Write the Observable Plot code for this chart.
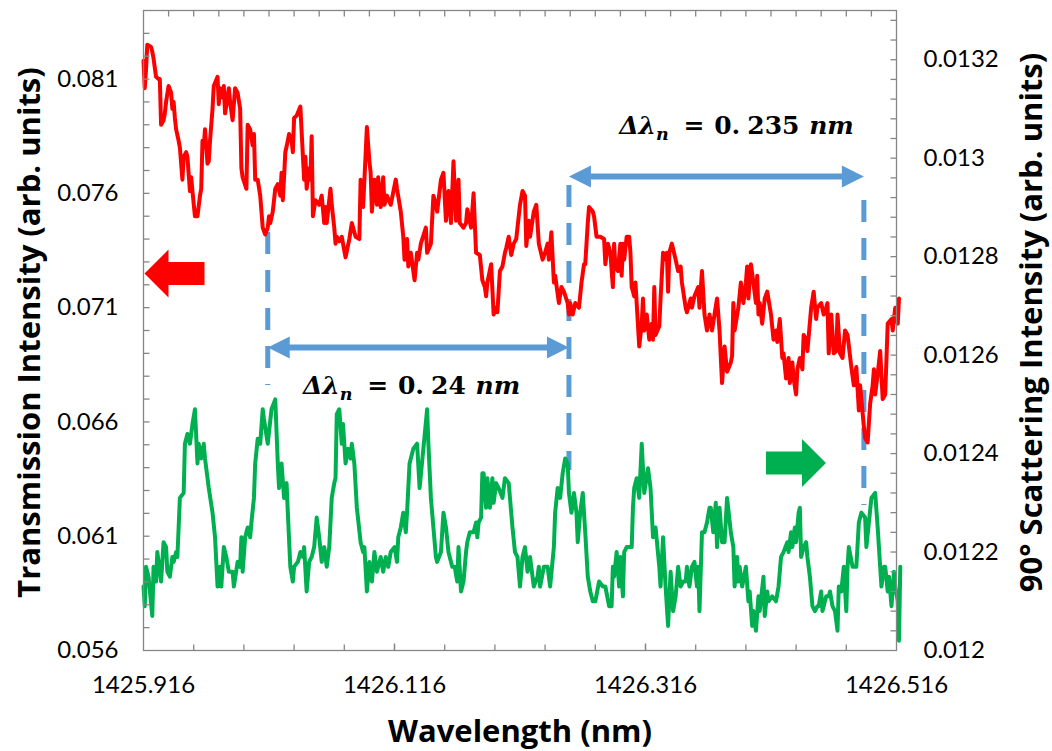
<!DOCTYPE html>
<html>
<head>
<meta charset="utf-8">
<script src="https://cdn.jsdelivr.net/npm/d3@7"></script>
<script src="https://cdn.jsdelivr.net/npm/@observablehq/plot@0.6"></script>
<style>
  html, body { margin: 0; padding: 0; background: #fff; }
  #chart svg { display: block; }
</style>
</head>
<body>
<div id="chart"></div>
<script>
// Transmission through the resonator: [wavelength (nm), intensity (left axis)]
const transmission = [
[1425.916,0.0818],[1425.917,0.0806],[1425.918,0.0814],[1425.919,0.0825],[1425.922,0.0824],[1425.923,0.0822],[1425.924,0.0819],[1425.926,0.0811],[1425.928,0.0810],[1425.929,0.0810],
[1425.930,0.0790],[1425.932,0.0792],[1425.933,0.0795],[1425.934,0.0800],[1425.936,0.0807],[1425.938,0.0804],[1425.939,0.0797],[1425.940,0.0800],[1425.941,0.0793],[1425.942,0.0788],
[1425.944,0.0783],[1425.945,0.0780],[1425.947,0.0766],[1425.948,0.0776],[1425.950,0.0778],[1425.951,0.0776],[1425.953,0.0761],[1425.954,0.0767],[1425.955,0.0761],[1425.957,0.0750],
[1425.959,0.0750],[1425.961,0.0759],[1425.962,0.0762],[1425.963,0.0783],[1425.964,0.0780],[1425.965,0.0788],[1425.967,0.0773],[1425.968,0.0774],[1425.969,0.0783],[1425.971,0.0797],
[1425.972,0.0807],[1425.975,0.0811],[1425.976,0.0799],[1425.977,0.0806],[1425.979,0.0802],[1425.980,0.0807],[1425.981,0.0795],[1425.983,0.0802],[1425.984,0.0806],[1425.985,0.0800],
[1425.987,0.0792],[1425.988,0.0799],[1425.989,0.0806],[1425.991,0.0804],[1425.993,0.0797],[1425.994,0.0771],[1425.995,0.0767],[1425.998,0.0762],[1425.999,0.0790],[1426.001,0.0788],
[1426.003,0.0781],[1426.004,0.0786],[1426.005,0.0766],[1426.007,0.0766],[1426.009,0.0759],[1426.011,0.0745],[1426.013,0.0742],[1426.015,0.0745],[1426.016,0.0750],[1426.017,0.0747],
[1426.019,0.0752],[1426.021,0.0762],[1426.023,0.0764],[1426.025,0.0759],[1426.026,0.0769],[1426.027,0.0757],[1426.028,0.0767],[1426.029,0.0778],[1426.031,0.0783],[1426.032,0.0786],
[1426.034,0.0783],[1426.035,0.0778],[1426.036,0.0793],[1426.038,0.0794],[1426.041,0.0798],[1426.042,0.0787],[1426.044,0.0766],[1426.045,0.0776],[1426.046,0.0762],[1426.048,0.0771],
[1426.049,0.0766],[1426.050,0.0785],[1426.051,0.0750],[1426.053,0.0757],[1426.056,0.0755],[1426.058,0.0759],[1426.060,0.0747],[1426.061,0.0754],[1426.062,0.0747],[1426.065,0.0762],
[1426.066,0.0755],[1426.068,0.0745],[1426.069,0.0738],[1426.070,0.0741],[1426.072,0.0739],[1426.074,0.0741],[1426.077,0.0732],[1426.080,0.0740],[1426.082,0.0747],[1426.085,0.0741],
[1426.088,0.0740],[1426.089,0.0766],[1426.091,0.0754],[1426.094,0.0789],[1426.096,0.0774],[1426.097,0.0769],[1426.098,0.0752],[1426.100,0.0766],[1426.102,0.0755],[1426.103,0.0767],
[1426.105,0.0754],[1426.107,0.0767],[1426.108,0.0755],[1426.110,0.0759],[1426.113,0.0755],[1426.117,0.0766],[1426.118,0.0762],[1426.121,0.0752],[1426.123,0.0741],[1426.124,0.0731],
[1426.126,0.0740],[1426.127,0.0728],[1426.129,0.0734],[1426.132,0.0722],[1426.134,0.0734],[1426.135,0.0731],[1426.137,0.0738],[1426.141,0.0745],[1426.142,0.0734],[1426.145,0.0738],
[1426.147,0.0759],[1426.149,0.0755],[1426.150,0.0752],[1426.153,0.0766],[1426.155,0.0769],[1426.157,0.0748],[1426.159,0.0761],[1426.161,0.0747],[1426.163,0.0774],[1426.165,0.0748],
[1426.167,0.0766],[1426.168,0.0747],[1426.171,0.0745],[1426.173,0.0747],[1426.174,0.0753],[1426.177,0.0745],[1426.179,0.0760],[1426.181,0.0734],[1426.184,0.0733],[1426.186,0.0722],
[1426.188,0.0719],[1426.189,0.0715],[1426.190,0.0721],[1426.193,0.0729],[1426.195,0.0707],[1426.197,0.0710],[1426.198,0.0708],[1426.200,0.0726],[1426.202,0.0728],[1426.204,0.0734],
[1426.205,0.0736],[1426.207,0.0741],[1426.209,0.0733],[1426.211,0.0738],[1426.213,0.0740],[1426.216,0.0755],[1426.218,0.0761],[1426.220,0.0759],[1426.221,0.0737],[1426.223,0.0748],
[1426.224,0.0741],[1426.227,0.0752],[1426.229,0.0755],[1426.231,0.0738],[1426.234,0.0731],[1426.236,0.0734],[1426.238,0.0738],[1426.239,0.0731],[1426.241,0.0743],[1426.243,0.0721],
[1426.244,0.0724],[1426.247,0.0712],[1426.249,0.0719],[1426.251,0.0717],[1426.254,0.0712],[1426.255,0.0707],[1426.256,0.0712],[1426.258,0.0707],[1426.260,0.0712],[1426.263,0.0710],
[1426.265,0.0721],[1426.267,0.0729],[1426.268,0.0729],[1426.270,0.0747],[1426.271,0.0754],[1426.274,0.0752],[1426.275,0.0750],[1426.277,0.0741],[1426.280,0.0741],[1426.283,0.0740],
[1426.284,0.0729],[1426.286,0.0738],[1426.288,0.0734],[1426.290,0.0719],[1426.291,0.0738],[1426.292,0.0728],[1426.294,0.0726],[1426.296,0.0738],[1426.297,0.0724],[1426.298,0.0738],
[1426.299,0.0731],[1426.301,0.0741],[1426.303,0.0741],[1426.304,0.0734],[1426.305,0.0719],[1426.307,0.0715],[1426.308,0.0721],[1426.311,0.0693],[1426.313,0.0703],[1426.314,0.0714],
[1426.315,0.0700],[1426.317,0.0707],[1426.319,0.0696],[1426.321,0.0703],[1426.322,0.0696],[1426.323,0.0719],[1426.324,0.0698],[1426.327,0.0702],[1426.328,0.0714],[1426.330,0.0734],
[1426.332,0.0731],[1426.333,0.0734],[1426.334,0.0717],[1426.335,0.0734],[1426.337,0.0738],[1426.340,0.0731],[1426.342,0.0726],[1426.344,0.0728],[1426.345,0.0721],[1426.348,0.0710],
[1426.349,0.0708],[1426.352,0.0714],[1426.353,0.0710],[1426.355,0.0715],[1426.358,0.0719],[1426.359,0.0710],[1426.361,0.0726],[1426.363,0.0707],[1426.365,0.0700],[1426.367,0.0707],
[1426.369,0.0700],[1426.373,0.0714],[1426.375,0.0700],[1426.376,0.0688],[1426.377,0.0677],[1426.379,0.0693],[1426.381,0.0682],[1426.384,0.0686],[1426.385,0.0689],[1426.386,0.0712],
[1426.387,0.0700],[1426.390,0.0710],[1426.392,0.0721],[1426.394,0.0712],[1426.396,0.0721],[1426.397,0.0728],[1426.398,0.0714],[1426.400,0.0729],[1426.402,0.0721],[1426.404,0.0712],
[1426.405,0.0724],[1426.406,0.0707],[1426.407,0.0712],[1426.409,0.0703],[1426.411,0.0714],[1426.413,0.0717],[1426.416,0.0707],[1426.418,0.0696],[1426.420,0.0700],[1426.421,0.0695],
[1426.423,0.0705],[1426.425,0.0688],[1426.426,0.0690],[1426.428,0.0679],[1426.430,0.0688],[1426.431,0.0677],[1426.433,0.0686],[1426.434,0.0679],[1426.436,0.0672],[1426.437,0.0683],
[1426.439,0.0688],[1426.441,0.0683],[1426.442,0.0698],[1426.444,0.0696],[1426.445,0.0691],[1426.448,0.0710],[1426.450,0.0717],[1426.452,0.0705],[1426.453,0.0710],[1426.456,0.0712],
[1426.458,0.0707],[1426.460,0.0710],[1426.461,0.0712],[1426.462,0.0690],[1426.464,0.0707],[1426.466,0.0690],[1426.468,0.0691],[1426.469,0.0707],[1426.471,0.0690],[1426.473,0.0688],
[1426.475,0.0700],[1426.477,0.0698],[1426.480,0.0684],[1426.482,0.0676],[1426.484,0.0684],[1426.486,0.0665],[1426.487,0.0676],[1426.490,0.0658],[1426.491,0.0653],[1426.493,0.0651],
[1426.495,0.0668],[1426.497,0.0676],[1426.498,0.0683],[1426.499,0.0672],[1426.501,0.0681],[1426.503,0.0691],[1426.505,0.0670],[1426.507,0.0672],[1426.509,0.0703],[1426.512,0.0705],
[1426.513,0.0700],[1426.515,0.0710],[1426.517,0.0703],[1426.518,0.0714]
];

// 90° scattered light: [wavelength (nm), intensity (right axis)]
const scattering = [
[1425.916,0.01213],[1425.917,0.01209],[1425.918,0.01217],[1425.920,0.01215],[1425.923,0.01207],[1425.924,0.01217],[1425.926,0.01214],[1425.927,0.01220],[1425.929,0.01216],[1425.930,0.01214],
[1425.932,0.01222],[1425.934,0.01221],[1425.935,0.01216],[1425.937,0.01215],[1425.939,0.01219],[1425.940,0.01218],[1425.942,0.01220],[1425.943,0.01219],[1425.945,0.01231],[1425.948,0.01232],
[1425.949,0.01242],[1425.951,0.01244],[1425.953,0.01242],[1425.955,0.01246],[1425.957,0.01249],[1425.959,0.01238],[1425.960,0.01242],[1425.962,0.01239],[1425.964,0.01242],[1425.965,0.01239],
[1425.968,0.01233],[1425.971,0.01228],[1425.973,0.01223],[1425.975,0.01213],[1425.977,0.01217],[1425.978,0.01213],[1425.980,0.01221],[1425.982,0.01219],[1425.984,0.01216],[1425.987,0.01216],
[1425.988,0.01213],[1425.991,0.01218],[1425.993,0.01217],[1425.994,0.01223],[1425.995,0.01216],[1425.997,0.01223],[1425.999,0.01225],[1426.001,0.01223],[1426.002,0.01226],[1426.004,0.01231],
[1426.005,0.01238],[1426.007,0.01243],[1426.009,0.01242],[1426.011,0.01249],[1426.012,0.01247],[1426.015,0.01242],[1426.018,0.01249],[1426.021,0.01251],[1426.023,0.01238],[1426.024,0.01233],
[1426.026,0.01238],[1426.028,0.01231],[1426.030,0.01234],[1426.031,0.01228],[1426.033,0.01217],[1426.035,0.01214],[1426.036,0.01217],[1426.039,0.01218],[1426.041,0.01220],[1426.043,0.01219],
[1426.044,0.01221],[1426.046,0.01212],[1426.048,0.01218],[1426.050,0.01219],[1426.052,0.01221],[1426.054,0.01227],[1426.056,0.01223],[1426.058,0.01218],[1426.060,0.01221],[1426.062,0.01217],
[1426.064,0.01221],[1426.066,0.01231],[1426.068,0.01234],[1426.069,0.01235],[1426.070,0.01248],[1426.072,0.01249],[1426.074,0.01242],[1426.075,0.01246],[1426.077,0.01238],[1426.079,0.01241],
[1426.081,0.01239],[1426.082,0.01242],[1426.084,0.01238],[1426.086,0.01229],[1426.089,0.01222],[1426.091,0.01220],[1426.092,0.01221],[1426.094,0.01212],[1426.096,0.01218],[1426.098,0.01214],
[1426.100,0.01220],[1426.102,0.01216],[1426.105,0.01219],[1426.107,0.01216],[1426.109,0.01219],[1426.111,0.01217],[1426.113,0.01220],[1426.116,0.01221],[1426.118,0.01218],[1426.119,0.01223],
[1426.121,0.01225],[1426.123,0.01228],[1426.125,0.01224],[1426.126,0.01228],[1426.128,0.01238],[1426.131,0.01241],[1426.134,0.01242],[1426.136,0.01233],[1426.139,0.01241],[1426.142,0.01249],
[1426.143,0.01242],[1426.145,0.01231],[1426.147,0.01225],[1426.149,0.01219],[1426.150,0.01218],[1426.153,0.01220],[1426.155,0.01228],[1426.157,0.01225],[1426.159,0.01220],[1426.162,0.01217],
[1426.164,0.01217],[1426.166,0.01214],[1426.167,0.01221],[1426.169,0.01212],[1426.171,0.01214],[1426.173,0.01220],[1426.174,0.01222],[1426.176,0.01224],[1426.179,0.01224],[1426.181,0.01226],
[1426.182,0.01223],[1426.183,0.01226],[1426.185,0.01227],[1426.186,0.01236],[1426.187,0.01236],[1426.189,0.01229],[1426.190,0.01235],[1426.192,0.01229],[1426.194,0.01235],[1426.195,0.01230],
[1426.197,0.01234],[1426.199,0.01233],[1426.202,0.01231],[1426.204,0.01235],[1426.207,0.01234],[1426.210,0.01225],[1426.212,0.01220],[1426.214,0.01219],[1426.216,0.01213],[1426.218,0.01219],
[1426.220,0.01221],[1426.222,0.01216],[1426.224,0.01219],[1426.227,0.01213],[1426.230,0.01215],[1426.231,0.01217],[1426.232,0.01213],[1426.235,0.01217],[1426.238,0.01217],[1426.240,0.01213],
[1426.243,0.01221],[1426.244,0.01228],[1426.246,0.01233],[1426.248,0.01231],[1426.250,0.01236],[1426.252,0.01239],[1426.254,0.01238],[1426.255,0.01232],[1426.257,0.01228],[1426.259,0.01232],
[1426.261,0.01228],[1426.262,0.01222],[1426.264,0.01228],[1426.266,0.01232],[1426.268,0.01224],[1426.270,0.01215],[1426.272,0.01212],[1426.274,0.01210],[1426.276,0.01210],[1426.279,0.01214],
[1426.282,0.01213],[1426.284,0.01213],[1426.287,0.01209],[1426.289,0.01209],[1426.290,0.01217],[1426.291,0.01215],[1426.293,0.01220],[1426.295,0.01213],[1426.296,0.01219],[1426.298,0.01211],
[1426.299,0.01220],[1426.301,0.01221],[1426.303,0.01221],[1426.305,0.01221],[1426.306,0.01229],[1426.307,0.01233],[1426.309,0.01235],[1426.311,0.01231],[1426.313,0.01242],[1426.315,0.01232],
[1426.318,0.01237],[1426.320,0.01233],[1426.322,0.01223],[1426.324,0.01225],[1426.327,0.01217],[1426.328,0.01213],[1426.330,0.01223],[1426.332,0.01213],[1426.334,0.01205],[1426.336,0.01216],
[1426.338,0.01208],[1426.340,0.01211],[1426.342,0.01217],[1426.344,0.01213],[1426.346,0.01214],[1426.348,0.01214],[1426.349,0.01217],[1426.351,0.01213],[1426.353,0.01217],[1426.355,0.01218],
[1426.357,0.01213],[1426.358,0.01217],[1426.359,0.01208],[1426.361,0.01224],[1426.363,0.01224],[1426.365,0.01226],[1426.367,0.01229],[1426.368,0.01229],[1426.370,0.01224],[1426.372,0.01230],
[1426.373,0.01221],[1426.375,0.01229],[1426.377,0.01222],[1426.379,0.01222],[1426.381,0.01231],[1426.384,0.01224],[1426.386,0.01221],[1426.387,0.01213],[1426.389,0.01219],[1426.390,0.01214],
[1426.391,0.01217],[1426.393,0.01213],[1426.396,0.01217],[1426.398,0.01210],[1426.399,0.01212],[1426.401,0.01205],[1426.402,0.01208],[1426.404,0.01204],[1426.406,0.01211],[1426.407,0.01208],
[1426.410,0.01215],[1426.411,0.01207],[1426.413,0.01212],[1426.414,0.01210],[1426.417,0.01211],[1426.420,0.01210],[1426.422,0.01213],[1426.424,0.01219],[1426.426,0.01220],[1426.429,0.01222],
[1426.430,0.01220],[1426.432,0.01224],[1426.433,0.01221],[1426.435,0.01225],[1426.436,0.01222],[1426.438,0.01228],[1426.439,0.01229],[1426.440,0.01219],[1426.442,0.01221],[1426.444,0.01222],
[1426.445,0.01219],[1426.447,0.01215],[1426.449,0.01209],[1426.451,0.01208],[1426.453,0.01209],[1426.454,0.01209],[1426.456,0.01212],[1426.457,0.01208],[1426.460,0.01211],[1426.462,0.01211],
[1426.463,0.01212],[1426.465,0.01209],[1426.467,0.01208],[1426.469,0.01204],[1426.470,0.01213],[1426.472,0.01212],[1426.474,0.01217],[1426.476,0.01208],[1426.477,0.01217],[1426.478,0.01221],
[1426.481,0.01217],[1426.484,0.01217],[1426.486,0.01226],[1426.488,0.01228],[1426.491,0.01227],[1426.492,0.01221],[1426.494,0.01226],[1426.496,0.01231],[1426.499,0.01232],[1426.501,0.01225],
[1426.503,0.01217],[1426.504,0.01213],[1426.506,0.01217],[1426.507,0.01217],[1426.509,0.01212],[1426.510,0.01215],[1426.512,0.01209],[1426.514,0.01216],[1426.515,0.01213],[1426.517,0.01210],
[1426.518,0.01202],[1426.519,0.01217]
];

// Axis ranges and labelled ticks
const wavelengthDomain = [1425.916, 1426.516];
const wavelengthTicks = [1425.916, 1426.116, 1426.316, 1426.516];
const transmissionDomain = [0.056, 0.084];
const transmissionTicks = [0.056, 0.061, 0.066, 0.071, 0.076, 0.081];
const scatteringDomain = [0.012, 0.0133];
const scatteringTicks = [0.012, 0.0122, 0.0124, 0.0126, 0.0128, 0.013, 0.0132];

// Free spectral range annotation: first resonance and the two measured spacings
const fsrStart = 1426.015;
const fsrSpacing = [0.24, 0.235];
const fsrLabels = ["Δλn = 0.24 nm", "Δλn = 0.235 nm"];
const fsrArrowLevel = [0.06926, 0.07674];            // transmission units
const fsrLabelAt = [[1426.1296, 0.06759], [1426.3885, 0.07893]];
const guideTop = [0.07429, 0.07634, 0.07569];
const guideBottom = [0.06759, 0.06388, 0.06234];

// Series pointers: which axis each curve belongs to
const seriesPointers = [
  {wavelength: 1425.9407, transmission: 0.07249, direction: -1, color: "#FF0000"},
  {wavelength: 1426.4359, scattering: 0.012381, direction: 1, color: "#00B050"}
];

// Right-axis values are drawn on the left-axis scale through a linear map
const [t0, t1] = transmissionDomain, [s0, s1] = scatteringDomain;
const toT = s => t0 + (s - s0) * (t1 - t0) / (s1 - s0);
const toS = t => s0 + (t - t0) * (s1 - s0) / (t1 - t0);

const boundaries = [fsrStart, fsrStart + fsrSpacing[0], fsrStart + fsrSpacing[0] + fsrSpacing[1]];
const guides = boundaries.map((x, i) => ({x, top: guideTop[i], bottom: guideBottom[i]}));
const spans = fsrSpacing.map((d, i) => ({x1: boundaries[i], x2: boundaries[i + 1], y: fsrArrowLevel[i]}));
const labels = fsrLabels.map((text, i) => ({text, x: fsrLabelAt[i][0], y: fsrLabelAt[i][1]}));
const pointers = seriesPointers.map(p => ({...p, y: p.transmission ?? toT(p.scattering)}));

// Custom symbols
const tickMark = (dx, dy) => ({draw(ctx) { ctx.moveTo(0, 0); ctx.lineTo(dx, dy); }});
const arrowHead = dir => ({
  draw(ctx, size) {
    const k = Math.sqrt(size / Math.PI) / 10;
    ctx.moveTo(0, 0);
    ctx.lineTo(-dir * 22 * k, -11 * k);
    ctx.lineTo(-dir * 22 * k, 11 * k);
    ctx.closePath();
  }
});
const blockArrow = dir => ({
  draw(ctx, size) {
    const k = Math.sqrt(size / Math.PI) / 10;
    const pts = [[-30, -11.5], [6, -11.5], [6, -24], [30, 0], [6, 24], [6, 11.5], [-30, 11.5]];
    pts.forEach(([x, y], i) => i ? ctx.lineTo(dir * x * k, y * k) : ctx.moveTo(dir * x * k, y * k));
    ctx.closePath();
  }
});

const axisGray = "#868686";
const blue = "#5B9BD5";
const titleFont = "'Open Sans', sans-serif";
const minorX = d3.range(1425.956, 1426.5, 0.04);
const topX = d3.range(1425.936, 1426.51, 0.02);
const minorT = d3.range(0.057, 0.0835, 0.001);
const minorS = d3.range(0.01204, 0.01329, 0.00004).map(toT);

const chart = Plot.plot({
  width: 1052,
  height: 751,
  marginLeft: 143,
  marginRight: 156,
  marginTop: 10,
  marginBottom: 101,
  style: {fontFamily: "Lato, sans-serif", fontSize: "24px", color: "#000", background: "#fff"},
  x: {domain: wavelengthDomain},
  y: {domain: transmissionDomain},
  marks: [
    // dashed guides at successive resonances
    Plot.ruleX(guides, {x: "x", y1: "top", y2: "bottom", stroke: blue, strokeWidth: 5, strokeDasharray: "22,16"}),
    // curves
    Plot.line(transmission, {x: d => d[0], y: d => d[1], stroke: "#FF0000", strokeWidth: 4, strokeLinejoin: "round"}),
    Plot.line(scattering, {x: d => d[0], y: d => toT(d[1]), stroke: "#00B050", strokeWidth: 4, strokeLinejoin: "round"}),
    // double-headed spacing arrows
    Plot.ruleY(spans, {y: "y", x1: "x1", x2: "x2", stroke: blue, strokeWidth: 6, insetLeft: 10, insetRight: 10}),
    Plot.dot(spans, {x: "x1", y: "y", r: 10, symbol: arrowHead(-1), fill: blue, stroke: "none"}),
    Plot.dot(spans, {x: "x2", y: "y", r: 10, symbol: arrowHead(1), fill: blue, stroke: "none"}),
    Plot.text(labels, {x: "x", y: "y", text: "text", fontFamily: "DejaVu Serif", fontWeight: "bold", fontSize: 25, fill: "#000", textAnchor: "middle"}),
    // axis pointers
    Plot.dot(pointers.filter(p => p.direction < 0), {x: "wavelength", y: "y", r: 10, symbol: blockArrow(-1), fill: "#FF0000", stroke: "none"}),
    Plot.dot(pointers.filter(p => p.direction > 0), {x: "wavelength", y: "y", r: 10, symbol: blockArrow(1), fill: "#00B050", stroke: "none"}),
    // frame and inward ticks
    Plot.frame({stroke: axisGray, strokeWidth: 1.3}),
    Plot.dot(minorX, {x: d => d, y: () => t0, symbol: tickMark(0, -6), fill: "none", stroke: axisGray, strokeWidth: 1.3}),
    Plot.dot(wavelengthTicks.slice(1, -1), {x: d => d, y: () => t0, symbol: tickMark(0, -7), fill: "none", stroke: axisGray, strokeWidth: 1.3}),
    Plot.dot(topX, {x: d => d, y: () => t1, symbol: tickMark(0, 6), fill: "none", stroke: axisGray, strokeWidth: 1.3}),
    Plot.dot(minorT, {x: () => wavelengthDomain[0], y: d => d, symbol: tickMark(6, 0), fill: "none", stroke: axisGray, strokeWidth: 1.3}),
    Plot.dot(minorS, {x: () => wavelengthDomain[1], y: d => d, symbol: tickMark(-6, 0), fill: "none", stroke: axisGray, strokeWidth: 1.3}),
    // tick labels
    Plot.axisX(wavelengthTicks, {anchor: "bottom", tickSize: 0, tickPadding: 25, tickFormat: d => d.toFixed(3), fontSize: 24, label: null}),
    Plot.axisY(transmissionTicks, {anchor: "left", tickSize: 0, tickPadding: 25, tickFormat: d => d.toFixed(3), fontSize: 24, label: null}),
    Plot.axisY(scatteringTicks.map(toT), {anchor: "right", tickSize: 0, tickPadding: 27, tickFormat: d => String(+toS(d).toFixed(4)), fontSize: 24, label: null}),
    // axis titles
    Plot.text(["Transmission Intensity (arb. units)"], {text: d => d, frameAnchor: "left", dx: -113, dy: 2, rotate: -90, fontFamily: titleFont, fontSize: 31, fontWeight: "bold", textAnchor: "middle", lineAnchor: "middle", fill: "#000"}),
    Plot.text(["90° Scattering Intensity (arb. units)"], {text: d => d, frameAnchor: "right", dx: 136, dy: -8, rotate: -90, fontFamily: titleFont, fontSize: 31, fontWeight: "bold", textAnchor: "middle", lineAnchor: "middle", fill: "#000"}),
    Plot.text(["Wavelength (nm)"], {text: d => d, frameAnchor: "bottom", dy: 82, fontFamily: titleFont, fontSize: 31, fontWeight: "bold", textAnchor: "middle", lineAnchor: "middle", fill: "#000"})
  ]
});

// Typeset the spacing labels: italic symbols, subscript index, upright numbers
d3.select(chart).selectAll("text").each(function () {
  const m = /^(Δλ)(n) = ([\d]+\.)(\d+) (nm)$/.exec(this.textContent);
  if (!m) return;
  const t = d3.select(this).text(null).style("white-space", "pre");
  t.append("tspan").attr("font-style", "italic").text(m[1]);
  t.append("tspan").attr("font-style", "italic").attr("font-size", "70%").attr("dy", 6).text(m[2]);
  t.append("tspan").attr("dy", -6).attr("dx", 6).text(" = ");
  t.append("tspan").attr("dx", 1).text(m[3]);
  t.append("tspan").attr("dx", 7).text(m[4]);
  t.append("tspan").attr("font-style", "italic").attr("dx", 1).text(" " + m[5]);
});

document.getElementById("chart").appendChild(chart);
</script>
</body>
</html>
